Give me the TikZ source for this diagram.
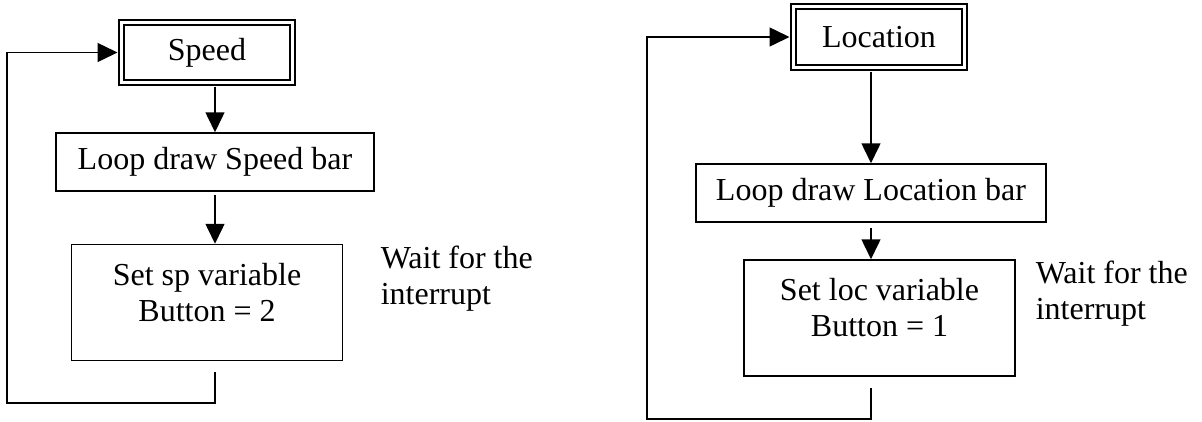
\documentclass[tikz,border=0pt]{standalone}
\usepackage{fontspec}
\setmainfont{Liberation Serif}
\usetikzlibrary{arrows.meta,calc}
\begin{document}
\begin{tikzpicture}[x=1pt,y=-1pt,
  font=\fontsize{32pt}{36pt}\selectfont,
  line width=1.5pt,
  box/.style={draw, rectangle, inner sep=0pt, align=center},
  dbox/.style={draw, rectangle, double, double distance=3.5pt, line width=1.5pt, inner sep=0pt},
  note/.style={align=left, inner sep=0pt},
  arr/.style={-{Triangle[length=20pt,width=19pt]}}]
\useasboundingbox (0,0) rectangle (1202,421);

% left chart
\node[dbox, minimum width=171pt, minimum height=60pt] (speed) at (207,52.5) {Speed};
\node[box, minimum width=318pt, minimum height=58pt] (bar1) at (215,162) {Loop draw Speed bar};
\node[box, minimum width=271pt, minimum height=116pt] (set1) at (207,302.5) {Set sp variable\\Button = 2\\[-15pt]\mbox{}};
\node[note, anchor=base west] (wait1) at (380,304) {Wait for the\\interrupt};
\coordinate (cl) at (7,403);
\draw[arr, shorten <=3.25pt] (speed.south -| bar1.north) -- (bar1.north);
\draw[arr, shorten <=3pt] (bar1.south) -- (bar1.south |- set1.north);
\draw[arr, shorten >=3.25pt] ($(set1.south -| bar1.south)+(0,11)$) |- (cl) |- (speed.west);

% right chart
\node[dbox, minimum width=171pt, minimum height=61pt] (loc) at (879,37) {Location};
\node[box, minimum width=350pt, minimum height=58pt] (bar2) at (871,193) {Loop draw Location bar};
\node[box, minimum width=271pt, minimum height=116pt] (set2) at (879.5,318) {Set loc variable\\Button = 1\\[-15pt]\mbox{}};
\node[note, anchor=base west] (wait2) at (1035,319) {Wait for the\\interrupt};
\coordinate (cr) at (647,419);
\draw[arr, shorten <=3.25pt] (loc.south -| bar2.north) -- (bar2.north);
\draw[arr, shorten <=5pt] (bar2.south) -- (bar2.south |- set2.north);
\draw[arr, shorten >=3.25pt] ($(set2.south -| bar2.south)+(0,11)$) |- (cr) |- (loc.west);
\end{tikzpicture}
\end{document}
